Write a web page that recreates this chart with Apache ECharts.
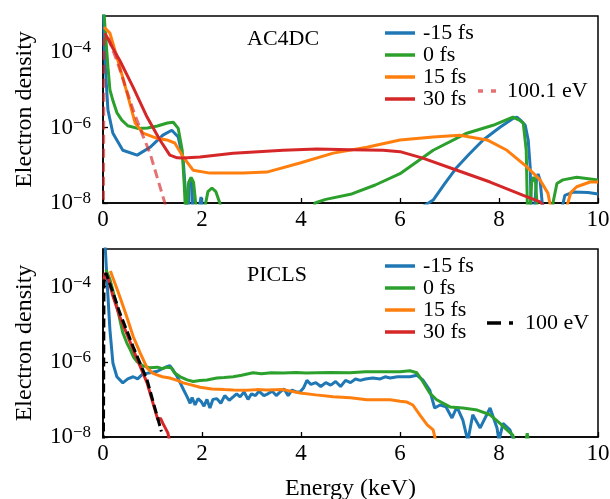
<!DOCTYPE html>
<html>
<head>
<meta charset="utf-8">
<script src="https://cdn.jsdelivr.net/npm/echarts@6/dist/echarts.min.js"></script>
<style>
  html, body { margin: 0; padding: 0; background: #fff; }
  #chart { width: 610px; height: 499px; }
</style>
</head>
<body>
<div id="chart"></div>
<script>
// Legend names and panel titles
const delayNames = ['-15 fs', '0 fs', '15 fs', '30 fs'];
const thermalNames = ['100.1 eV', '100 eV'];
const panelTitles = ['AC4DC', 'PICLS'];
const xTicks = [0, 2, 4, 6, 8, 10];

// AC4DC spectra: [energy keV, electron density]
const acBlue = [
  [0, 3e-3], [0.03, 1.0e-4], [0.06, 2.1e-5], [0.1, 2.9e-6], [0.2, 7.1e-7], [0.4, 2.5e-7],
  [0.69, 1.86e-7], [0.95, 3.0e-7], [1.21, 6.3e-7], [1.39, 8.5e-7], [1.52, 5.6e-7],
  [1.62, 1.38e-7], [1.68, 1.07e-8], [1.71, 1e-10], [1.74, 3.0e-8], [1.77, 4.6e-8],
  [1.8, 3.0e-8], [1.84, 1e-10], [1.92, 5e-9], [1.98, 1.45e-8], [2.03, 5e-9], [2.1, 1e-10],
  [6.4, 1e-10], [6.46, 8e-9], [6.67, 1.2e-8], [6.9, 3.2e-8], [7.15, 8.9e-8], [7.4, 2.0e-7],
  [7.68, 4.7e-7], [8.02, 1.02e-6], [8.29, 1.78e-6], [8.36, 1.9e-6], [8.45, 1.5e-6],
  [8.53, 1.15e-6], [8.59, 4.7e-7], [8.63, 8.9e-8], [8.65, 8e-9], [8.68, 1e-10],
  [8.72, 8e-9], [8.76, 4.5e-8], [8.79, 5.9e-8], [8.83, 4.0e-8], [8.88, 8e-9], [8.92, 1e-10],
  [9.24, 1e-10], [9.28, 8e-9], [9.33, 1.6e-8], [9.5, 1.95e-8], [9.8, 1.9e-8], [10, 1.74e-8]
];
const acGreen = [
  [0, 3e-3], [0.04, 4.6e-4], [0.1, 4.0e-5], [0.14, 1.0e-5], [0.2, 5.2e-6], [0.28, 2.5e-6],
  [0.38, 1.58e-6], [0.5, 1.12e-6], [0.7, 9.5e-7], [0.9, 9.8e-7], [1.1, 1.1e-6],
  [1.3, 1.32e-6], [1.42, 1.38e-6], [1.52, 9.5e-7], [1.6, 2.5e-7], [1.64, 3.2e-8],
  [1.67, 5e-9], [1.69, 8e-9], [1.73, 3.5e-8], [1.78, 4.8e-8], [1.83, 3.5e-8], [1.88, 8e-9],
  [1.92, 1e-10], [2.02, 1e-10], [2.06, 8e-9], [2.12, 2.0e-8], [2.2, 2.5e-8], [2.28, 2.0e-8],
  [2.36, 1.0e-8], [2.4, 6e-9], [2.45, 1e-10], [4.2, 1e-10], [4.28, 1.0e-8], [4.5, 1.25e-8],
  [5.0, 1.7e-8], [5.5, 3.0e-8], [6.0, 6.0e-8], [6.67, 2.5e-7], [7.35, 7.1e-7],
  [7.88, 1.15e-6], [8.28, 1.9e-6], [8.4, 1.6e-6], [8.49, 1.32e-6], [8.55, 2.5e-7],
  [8.57, 1.26e-8], [8.59, 1e-10], [8.62, 5e-9], [8.66, 3.5e-8], [8.7, 4.9e-8],
  [8.74, 3.5e-8], [8.78, 5e-9], [8.8, 1e-10], [9.05, 1e-10], [9.09, 1.0e-8],
  [9.17, 3.3e-8], [9.29, 4.1e-8], [9.57, 4.8e-8], [10, 4.1e-8]
];
const acOrange = [
  [0.02, 4.6e-4], [0.14, 3.2e-4], [0.34, 4.0e-5], [0.51, 6.3e-6], [0.65, 1.32e-6],
  [0.81, 7.1e-7], [1.09, 5.2e-7], [1.29, 4.7e-7], [1.45, 3.9e-7], [1.62, 1.66e-7],
  [1.82, 7.4e-8], [2.16, 6.2e-8], [2.83, 6.2e-8], [3.31, 6.6e-8], [3.98, 1.15e-7],
  [4.65, 2.1e-7], [5.33, 3.0e-7], [6.0, 4.7e-7], [6.67, 5.6e-7], [7.21, 6.3e-7],
  [7.76, 4.7e-7], [8.16, 2.5e-7], [8.57, 8.9e-8], [8.83, 4.1e-8], [8.99, 1.8e-8],
  [9.07, 5e-9], [9.1, 1e-10], [9.33, 1e-10], [9.37, 8e-9], [9.45, 1.9e-8],
  [9.57, 2.7e-8], [9.84, 3.6e-8], [10, 3.6e-8]
];
const acRed = [
  [0.04, 3.2e-4], [0.2, 1.26e-4], [0.34, 6.0e-5], [0.61, 1.17e-5], [0.89, 1.9e-6],
  [1.15, 4.7e-7], [1.35, 1.86e-7], [1.5, 1.58e-7], [1.62, 1.55e-7], [1.96, 1.66e-7],
  [2.63, 2.1e-7], [3.64, 2.5e-7], [4.32, 2.7e-7], [4.99, 2.6e-7], [5.66, 2.5e-7],
  [6.0, 2.3e-7], [6.46, 1.55e-7], [7.15, 7.4e-8], [7.82, 3.6e-8], [8.49, 1.6e-8],
  [8.83, 1.07e-8], [8.95, 7e-9]
];
const acThermal = [
  [0, 1e-12], [0.02, 2.0e-4], [0.06, 2.8e-4], [0.12, 2.2e-4], [0.2, 1.12e-4],
  [0.28, 6.0e-5], [0.4, 2.0e-5], [0.61, 2.9e-6], [0.8, 6.3e-7], [0.95, 2.1e-7],
  [1.1, 4.5e-8], [1.25, 1.0e-8], [1.3, 6.3e-9]
];

// PICLS spectra: [energy keV, electron density]
const piBlue = [
  [0, 3e-3], [0.04, 1.5e-3], [0.08, 1.55e-4], [0.14, 7.1e-6], [0.2, 9.3e-7], [0.28, 4.0e-7],
  [0.4, 2.75e-7], [0.5, 3.5e-7], [0.61, 4.0e-7], [0.7, 3.5e-7], [0.8, 4.7e-7], [0.95, 5.1e-7],
  [1.1, 5.6e-7], [1.2, 6.6e-7], [1.29, 7.4e-7], [1.35, 7.9e-7], [1.41, 6.2e-7], [1.5, 4.0e-7],
  [1.56, 2.75e-7], [1.63, 1.78e-7], [1.7, 1.17e-7], [1.76, 7.9e-8], [1.8, 1.12e-7],
  [1.86, 7.1e-8], [1.92, 1.05e-7], [1.98, 8.9e-8], [2.04, 6.6e-8], [2.1, 1.0e-7],
  [2.16, 5.9e-8], [2.22, 1.0e-7], [2.3, 1.05e-7], [2.38, 7.9e-8], [2.46, 1.26e-7],
  [2.55, 9.5e-8], [2.63, 1.17e-7], [2.7, 1.41e-7], [2.77, 1.17e-7], [2.85, 1.58e-7],
  [2.93, 1.0e-7], [3.0, 1.41e-7], [3.08, 1.26e-7], [3.15, 1.66e-7], [3.25, 1.26e-7],
  [3.33, 1.41e-7], [3.42, 1.66e-7], [3.5, 1.26e-7], [3.58, 1.58e-7], [3.66, 1.9e-7],
  [3.74, 1.26e-7], [3.82, 1.78e-7], [3.9, 1.58e-7], [3.98, 1.58e-7], [4.05, 2.0e-7],
  [4.12, 3.2e-7], [4.2, 2.5e-7], [4.3, 2.8e-7], [4.4, 2.2e-7], [4.5, 2.8e-7], [4.6, 2.4e-7],
  [4.7, 3.0e-7], [4.8, 2.2e-7], [4.9, 3.2e-7], [5.0, 2.8e-7], [5.1, 3.5e-7], [5.2, 3.2e-7],
  [5.3, 3.5e-7], [5.45, 3.7e-7], [5.6, 3.5e-7], [5.7, 4.0e-7], [5.8, 3.7e-7], [5.95, 4.0e-7],
  [6.1, 4.0e-7], [6.2, 4.0e-7], [6.34, 4.4e-7], [6.46, 3.3e-7], [6.6, 1.78e-7], [6.7, 5.9e-8],
  [6.81, 7.1e-8], [6.93, 6.3e-8], [7.05, 3.2e-8], [7.15, 6.3e-8], [7.27, 2.8e-8],
  [7.37, 7.9e-9], [7.47, 3.9e-8], [7.62, 1.74e-8], [7.82, 5.9e-8], [7.96, 1.74e-8],
  [8.0, 7.9e-9], [8.08, 2.3e-8], [8.22, 1.55e-8], [8.3, 7.9e-9]
];
const piGreen = [
  [0.06, 2.8e-4], [0.14, 1.55e-4], [0.2, 7.9e-5], [0.28, 3.0e-5], [0.4, 5.9e-6], [0.48, 3.2e-6],
  [0.55, 2.1e-6], [0.62, 1.32e-6], [0.69, 1.0e-6], [0.8, 7.9e-7], [0.95, 6.9e-7], [1.1, 7.2e-7],
  [1.2, 6.6e-7], [1.29, 7.2e-7], [1.38, 6.9e-7], [1.45, 5.0e-7], [1.56, 4.0e-7], [1.7, 3.3e-7],
  [1.82, 3.0e-7], [1.96, 3.2e-7], [2.1, 3.3e-7], [2.3, 3.7e-7], [2.45, 3.8e-7], [2.63, 4.0e-7],
  [2.8, 4.4e-7], [3.03, 5.1e-7], [3.2, 4.8e-7], [3.4, 5.1e-7], [3.64, 5.0e-7], [3.9, 5.2e-7],
  [4.1, 5.0e-7], [4.32, 5.1e-7], [4.6, 5.2e-7], [4.99, 5.1e-7], [5.3, 5.4e-7], [5.66, 5.4e-7],
  [6.0, 5.4e-7], [6.2, 5.8e-7], [6.34, 5.1e-7], [6.46, 3.0e-7], [6.6, 1.48e-7], [6.74, 9.8e-8],
  [7.01, 6.3e-8], [7.27, 5.9e-8], [7.56, 5.2e-8], [7.82, 3.9e-8], [8.02, 2.3e-8],
  [8.16, 1.55e-8], [8.28, 1.12e-8], [8.34, 6.3e-9], [8.4, 4e-9], [8.52, 5e-9],
  [8.57, 1.26e-8], [8.62, 5e-9]
];
const piOrange = [
  [0.15, 2.6e-4], [0.18, 2.5e-4], [0.34, 5.4e-5], [0.48, 1.58e-5], [0.61, 4.7e-6],
  [0.75, 1.74e-6], [0.89, 6.9e-7], [1.0, 5.0e-7], [1.09, 4.5e-7], [1.2, 4.0e-7],
  [1.35, 3.7e-7], [1.5, 3.2e-7], [1.62, 2.75e-7], [1.8, 2.4e-7], [1.96, 2.1e-7],
  [2.2, 1.9e-7], [2.45, 1.82e-7], [2.63, 1.78e-7], [2.9, 1.74e-7], [3.1, 1.82e-7],
  [3.31, 1.78e-7], [3.64, 1.82e-7], [3.98, 1.48e-7], [4.3, 1.32e-7], [4.65, 1.17e-7],
  [5.0, 1.1e-7], [5.33, 9.8e-8], [5.8, 9.8e-8], [6.0, 8.9e-8], [6.14, 8.5e-8],
  [6.26, 7.1e-8], [6.4, 3.9e-8], [6.55, 2.1e-8], [6.67, 1.55e-8], [6.74, 6.3e-9]
];
const piRed = [
  [0.02, 1.5e-4], [0.04, 2.3e-4], [0.1, 1.78e-4], [0.2, 5.6e-5], [0.34, 1.58e-5],
  [0.61, 2.1e-6], [0.89, 2.75e-7], [1.11, 2.8e-8], [1.16, 3.2e-8], [1.21, 2.3e-8],
  [1.31, 1.29e-8], [1.36, 6.3e-9]
];
const piThermal = [
  [0, 1e-12], [0.02, 1.26e-4], [0.06, 2.3e-4], [0.1, 2.1e-4], [0.2, 7.1e-5],
  [0.34, 2.0e-5], [0.61, 2.5e-6], [0.89, 3.3e-7], [1.18, 1.4e-8]
];

const FONT = 'Liberation Serif';
const palette = ['#1f77b4', '#2ca02c', '#ff7f0e', '#d62728'];
const thermalColors = ['rgba(214,39,40,0.65)', '#000'];

function xAxisFor(gridIndex, withName) {
  return {
    type: 'value', gridIndex, min: xTicks[0], max: xTicks[xTicks.length - 1], interval: 2,
    name: withName ? 'Energy (keV)' : '', nameLocation: 'middle', nameGap: 40,
    nameTextStyle: { fontFamily: FONT, fontSize: 24, color: '#000' },
    axisLine: { lineStyle: { color: '#000', width: 1.5 } },
    axisTick: { inside: true, length: 5, lineStyle: { color: '#000', width: 1.3 } },
    axisLabel: { fontFamily: FONT, fontSize: 23, color: '#000', margin: 5 },
    splitLine: { show: false }
  };
}
function yAxisFor(gridIndex, maxVal) {
  return {
    type: 'log', logBase: 100, gridIndex, min: 1e-8, max: maxVal, splitNumber: 2,
    name: 'Electron density', nameLocation: 'middle', nameGap: 66,
    nameTextStyle: { fontFamily: FONT, fontSize: 24, color: '#000' },
    axisLine: { lineStyle: { color: '#000', width: 1.5 } },
    axisTick: { inside: true, length: 5, lineStyle: { color: '#000', width: 1.3 } },
    axisLabel: {
      margin: 12, showMaxLabel: false,
      formatter: v => {
        const e = Math.round(Math.log10(v));
        if (e % 2 !== 0) return '';
        return '{b|10}{s|\u2212' + (-e) + '}';
      },
      rich: {
        b: { fontFamily: FONT, fontSize: 23, color: '#000' },
        s: { fontFamily: FONT, fontSize: 17, color: '#000', padding: [0, 0, 9, 0] }
      }
    },
    splitLine: { show: false }
  };
}
function curve(name, data, color, idx, dash) {
  return {
    type: 'line', name, data, xAxisIndex: idx, yAxisIndex: idx,
    symbol: 'none', showSymbol: false, animation: false, clip: true,
    lineStyle: { color, width: 3, type: dash || 'solid' },
    itemStyle: { color }
  };
}

const textBase = { fontFamily: FONT, fontSize: 22, color: '#000', lineHeight: 19.5 };
function legendBlock(entries, left, top, textPad) {
  return {
    orient: 'vertical', left, top, itemWidth: 30, itemHeight: 3.5, itemGap: 0, padding: 0,
    selectedMode: false, data: entries,
    textStyle: Object.assign({}, textBase, { padding: [0, 0, 0, textPad] })
  };
}
const solidIcon = 'rect';

const chart = echarts.init(document.getElementById('chart'), null, { renderer: 'canvas' });
chart.setOption({
  backgroundColor: '#fff',
  animation: false,
  title: [
    { text: panelTitles[0], left: 247, top: 28, padding: 0,
      textStyle: { fontFamily: FONT, fontSize: 22, fontWeight: 'normal', color: '#000' } },
    { text: panelTitles[1], left: 247, top: 264, padding: 0,
      textStyle: { fontFamily: FONT, fontSize: 22, fontWeight: 'normal', color: '#000' } }
  ],
  legend: [
    legendBlock(delayNames.map((n, i) => ({ name: n, icon: solidIcon, itemStyle: { color: palette[i] } })), 385, 22, 3),
    Object.assign(legendBlock([{ name: thermalNames[0], icon: 'path://M0,0h5v3.5h-5zM13,0h5v3.5h-5z',
      itemStyle: { color: thermalColors[0] } }], 478, 80, 6), { itemWidth: 18 }),
    legendBlock(delayNames.map((n, i) => ({ name: n, icon: solidIcon, itemStyle: { color: palette[i] } })), 385, 255, 3),
    Object.assign(legendBlock([{ name: thermalNames[1], icon: 'path://M0,0h14v3.5h-14zM22,0h4v3.5h-4z',
      itemStyle: { color: thermalColors[1] } }], 487, 312, 7), { itemWidth: 26 })
  ],
  grid: [
    { left: 103, right: 12, top: 16, height: 187, show: true, borderColor: '#000', borderWidth: 1.5,
      outerBoundsMode: 'none', containLabel: false },
    { left: 103, right: 12, top: 249, height: 188, show: true, borderColor: '#000', borderWidth: 1.5,
      outerBoundsMode: 'none', containLabel: false }
  ],
  xAxis: [xAxisFor(0, false), xAxisFor(1, true)],
  yAxis: [yAxisFor(0, 9.1e-4), yAxisFor(1, 1e-3)],
  series: [
    curve(delayNames[0], acBlue, palette[0], 0),
    curve(delayNames[1], acGreen, palette[1], 0),
    curve(delayNames[2], acOrange, palette[2], 0),
    curve(delayNames[3], acRed, palette[3], 0),
    curve(thermalNames[0], acThermal, thermalColors[0], 0, [9, 5]),
    curve(delayNames[0], piBlue, palette[0], 1),
    curve(delayNames[1], piGreen, palette[1], 1),
    curve(delayNames[2], piOrange, palette[2], 1),
    curve(delayNames[3], piRed, palette[3], 1),
    curve(thermalNames[1], piThermal, thermalColors[1], 1, [9, 4])
  ]
});
</script>
</body>
</html>
